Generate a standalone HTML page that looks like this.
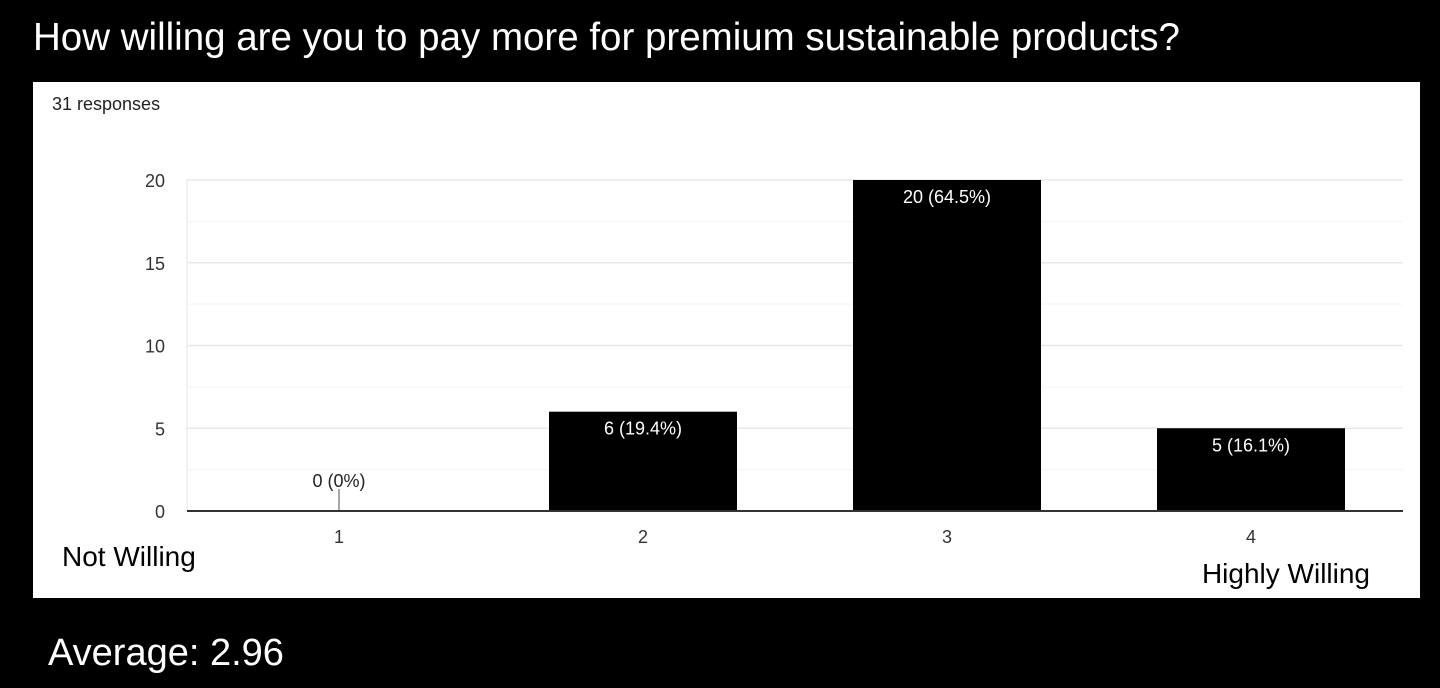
<!DOCTYPE html>
<html><head><meta charset="utf-8"><style>
html,body{margin:0;padding:0;background:#000;width:1440px;height:688px;overflow:hidden;font-family:"Liberation Sans",Arial,sans-serif}
#title{position:absolute;left:33px;top:16px;color:#fff;font-size:38.5px;white-space:nowrap}
#panel{position:absolute;left:33px;top:82px;width:1387px;height:516px;background:#fff}
#avg{position:absolute;left:48px;top:632px;color:#fff;font-size:38px}
</style></head><body>
<div id="title">How willing are you to pay more for premium sustainable products?</div>
<div id="panel"></div>
<svg id="chart" width="1440" height="688" style="position:absolute;left:0;top:0"></svg>
<div id="avg">Average: 2.96</div>
<script>
const categories = ["1","2","3","4"];
const counts = [0,6,20,5];
const valueLabels = ["0 (0%)","6 (19.4%)","20 (64.5%)","5 (16.1%)"];
const yTicks = [0,5,10,15,20];
const yMinor = [2.5,7.5,12.5,17.5];
const total = 31;

const NS="http://www.w3.org/2000/svg";
const svg=document.getElementById('chart');
const plotLeft=187,plotRight=1403,plotTop=180,plotBase=511,yMax=20;
const yScale=v=>plotBase-(v/yMax)*(plotBase-plotTop);
const bandW=(plotRight-plotLeft)/categories.length;
const xScale=i=>plotLeft+bandW*(i+0.5);
const barW=188;
function mk(tag,attrs,txt){const e=document.createElementNS(NS,tag);for(const k in attrs)e.setAttribute(k,attrs[k]);if(txt!==undefined)e.textContent=txt;svg.appendChild(e);return e;}

let rc=mk('text',{x:52,y:110,'font-size':18,fill:'#222'},total+" responses");



yMinor.forEach(v=>{const l=mk('line',{x1:plotLeft,x2:plotRight,y1:yScale(v),y2:yScale(v),stroke:'#f3f3f3','stroke-width':1});

});
yTicks.forEach(v=>{
 if(v>0){const l=mk('line',{x1:plotLeft,x2:plotRight,y1:yScale(v),y2:yScale(v),stroke:'#e8e8e8','stroke-width':1.5});
 
 }
 const tt=mk('text',{x:165,y:yScale(v)+7,'font-size':18,fill:'#333','text-anchor':'end'},String(v));
 
 
});
const vl=mk('line',{x1:plotLeft,x2:plotLeft,y1:plotTop,y2:plotBase,stroke:'#eee','stroke-width':1.5});



categories.forEach((c,i)=>{
 const v=counts[i],cx=xScale(i);
 if(v>0){
  const r=mk('rect',{x:cx-barW/2,y:yScale(v),width:barW,height:plotBase-yScale(v),fill:'#000'});
  
  
  const lt=mk('text',{x:cx,y:yScale(v)+23,'font-size':18,fill:'#fff','text-anchor':'middle'},valueLabels[i]);
  
  
 } else {
  const s=mk('line',{x1:cx,x2:cx,y1:plotBase-22,y2:plotBase,stroke:'#888','stroke-width':1.5});
  
  
  const lt=mk('text',{x:cx,y:plotBase-24,'font-size':18,fill:'#222','text-anchor':'middle'},valueLabels[i]);
  
  
 }
 const xl=mk('text',{x:cx,y:543,'font-size':18,fill:'#333','text-anchor':'middle'},c);
 
 
});
const ax=mk('line',{x1:plotLeft,x2:plotRight,y1:plotBase,y2:plotBase,stroke:'#333','stroke-width':2});



const nw=mk('text',{x:62,y:566,'font-size':28,fill:'#000'},"Not Willing");


const hw=mk('text',{x:1370,y:583,'font-size':28,fill:'#000','text-anchor':'end'},"Highly Willing");


</script>
</body></html>
